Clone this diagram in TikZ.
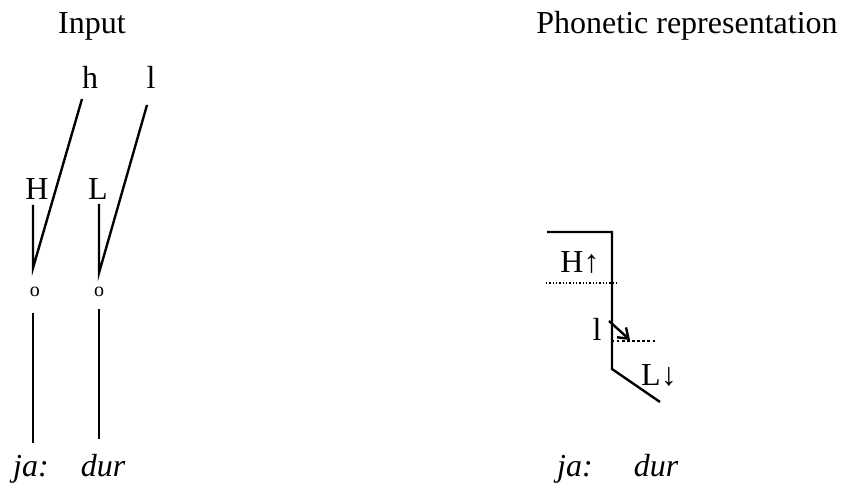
\documentclass[tikz,border=0pt]{standalone}
\usepackage{fontspec}
\setmainfont{Liberation Serif}
\usetikzlibrary{positioning,arrows.meta}

\begin{document}
\begin{tikzpicture}[
    x=0.375pt,
    y=-0.375pt,
    lab/.style={font=\fontsize{12}{14}\selectfont, inner sep=0pt, anchor=base},
    syl/.style={font=\fontsize{7.5}{9}\selectfont, inner sep=0pt, anchor=base},
    assoc/.style={line width=0.9pt},
    level/.style={line width=0.5pt, dash pattern=on 0.45pt off 0.8pt},
    mid level/.style={line width=1pt, dash pattern=on 0.9pt off 1pt}
]
    \useasboundingbox (0,0) rectangle (841,487);

    % Titres
    \node[lab] (input) at (92,34) {Input};
    \node[lab] (phon) at (687,34) {Phonetic representation};

    % Input : tons flottants et tons associés
    \node[lab] (h) at (90,89) {h};
    \node[lab] (l) at (151,89) {l};
    \node[lab] (H) at (37,200) {H};
    \node[lab] (L) at (98,200) {L};
    \node[syl] (o1) at (35,297) {o};
    \node[syl] (o2) at (99,297) {o};
    \node[lab,font=\fontsize{12}{14}\selectfont\itshape] (ja) at (31,477) {ja:};
    \node[lab,font=\fontsize{12}{14}\selectfont\itshape] (dur) at (103,477) {dur};

    \coordinate (h top) at (82,99);
    \coordinate (l top) at (147,105);
    \coordinate (H top) at (33,205);
    \coordinate (L top) at (99,204);
    \coordinate (H bot) at (33,268);
    \coordinate (L bot) at (99,273);
    \coordinate (o1 top) at (33,313);
    \coordinate (o2 top) at (99,309);
    \coordinate (ja top) at (33,443);
    \coordinate (dur top) at (99,439);

    \draw[assoc] (h top) -- (H bot) -- (H top);
    \draw[assoc] (l top) -- (L bot) -- (L top);
    \draw[assoc] (o1 top) -- (ja top);
    \draw[assoc] (o2 top) -- (dur top);

    % Représentation phonétique
    \coordinate (p1) at (547,232);
    \coordinate (p2) at (612,232);
    \coordinate (p3) at (612,369);
    \coordinate (p4) at (660,402);
    \draw[assoc] (p1) -- (p2) -- (p3) -- (p4);

    \node[lab] (Hup) at (580,273) {H↑};
    \coordinate (d1 a) at (546,283);
    \coordinate (d1 b) at (617,283);
    \draw[level] (d1 a) -- (d1 b);

    \node[lab] (lmid) at (597,341) {l};
    \coordinate (d2 a) at (612,341);
    \coordinate (d2 b) at (657,341);
    \draw[mid level] (d2 a) -- (d2 b);
    \coordinate (arr a) at (609,321);
    \coordinate (arr b) at (630,340);
    \draw[assoc,-{Straight Barb[length=3.5pt,width=5pt]}] (arr a) -- (arr b);

    \node[lab] (Ldown) at (659,386) {L↓};

    \node[lab,font=\fontsize{12}{14}\selectfont\itshape] (ja2) at (575,477) {ja:};
    \node[lab,font=\fontsize{12}{14}\selectfont\itshape] (dur2) at (656,477) {dur};

\end{tikzpicture}
\end{document}
